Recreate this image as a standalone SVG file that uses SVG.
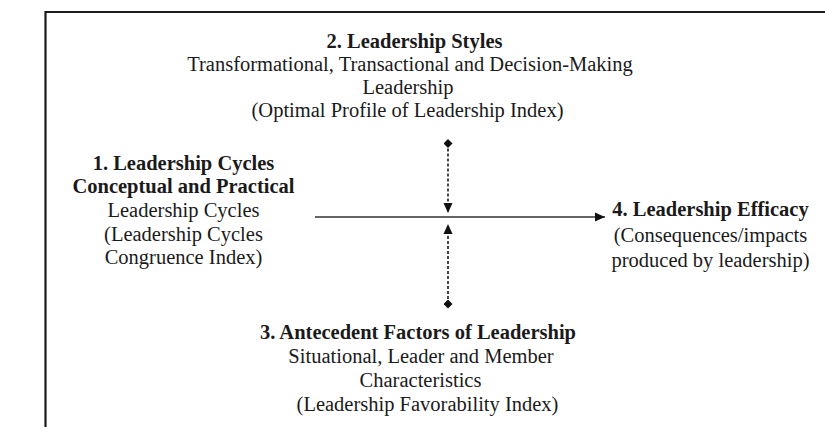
<svg xmlns="http://www.w3.org/2000/svg" width="825" height="427" viewBox="0 0 825 427">
  <style>
    text { font-family: "Liberation Serif", "Times New Roman", serif; font-size: 20.5px; fill: #1a1a1a; text-anchor: middle; }
    .b { font-weight: bold; }
    .frame { fill: none; stroke: #1a1a1a; stroke-width: 2.2; }
    .main { stroke: #333; stroke-width: 1.6; fill: none; }
    .dash { stroke: #333; stroke-width: 1.8; stroke-dasharray: 3 2; fill: none; }
    .head { fill: #111; }
  </style>
  <defs>
    <marker id="arrow" viewBox="0 0 10 10" refX="10" refY="5" markerWidth="10" markerHeight="10" markerUnits="userSpaceOnUse" orient="auto">
      <path d="M0,0.5 L10,5 L0,9.5 Z" class="head"/>
    </marker>
    <marker id="dia" viewBox="0 0 10 10" refX="5" refY="5" markerWidth="9" markerHeight="9" markerUnits="userSpaceOnUse" orient="auto">
      <path d="M5,0 L10,5 L5,10 L0,5 Z" class="head"/>
    </marker>
  </defs>

  <!-- page frame -->
  <path class="frame" d="M825,12 H45.5 V427"/>

  <!-- connectors -->
  <g id="connectors">
    <path class="main" d="M315,217 H605" marker-end="url(#arrow)"/>
    <path class="dash" d="M448,143.5 V213" marker-start="url(#dia)" marker-end="url(#arrow)"/>
    <path class="dash" d="M448,304 V224" marker-start="url(#dia)" marker-end="url(#arrow)"/>
  </g>

  <g id="node-styles">
    <text class="b" x="414.5" y="48">2. Leadership Styles</text>
    <text x="410" y="71">Transformational, Transactional and Decision-Making</text>
    <text x="408" y="94">Leadership</text>
    <text x="407.5" y="117">(Optimal Profile of Leadership Index)</text>
  </g>

  <g id="node-cycles">
    <text class="b" x="183.5" y="169.5">1. Leadership Cycles</text>
    <text class="b" x="183.5" y="193">Conceptual and Practical</text>
    <text x="183.5" y="217">Leadership Cycles</text>
    <text x="183.5" y="240.5">(Leadership Cycles</text>
    <text x="183.5" y="264">Congruence Index)</text>
  </g>

  <g id="node-efficacy">
    <text class="b" x="710.5" y="216">4. Leadership Efficacy</text>
    <text x="710.5" y="241.5">(Consequences/impacts</text>
    <text x="710.5" y="267">produced by leadership)</text>
  </g>

  <g id="node-antecedents">
    <text class="b" x="418" y="339">3. Antecedent Factors of Leadership</text>
    <text x="421" y="363">Situational, Leader and Member</text>
    <text x="420.5" y="387">Characteristics</text>
    <text x="427.5" y="411">(Leadership Favorability Index)</text>
  </g>
</svg>
